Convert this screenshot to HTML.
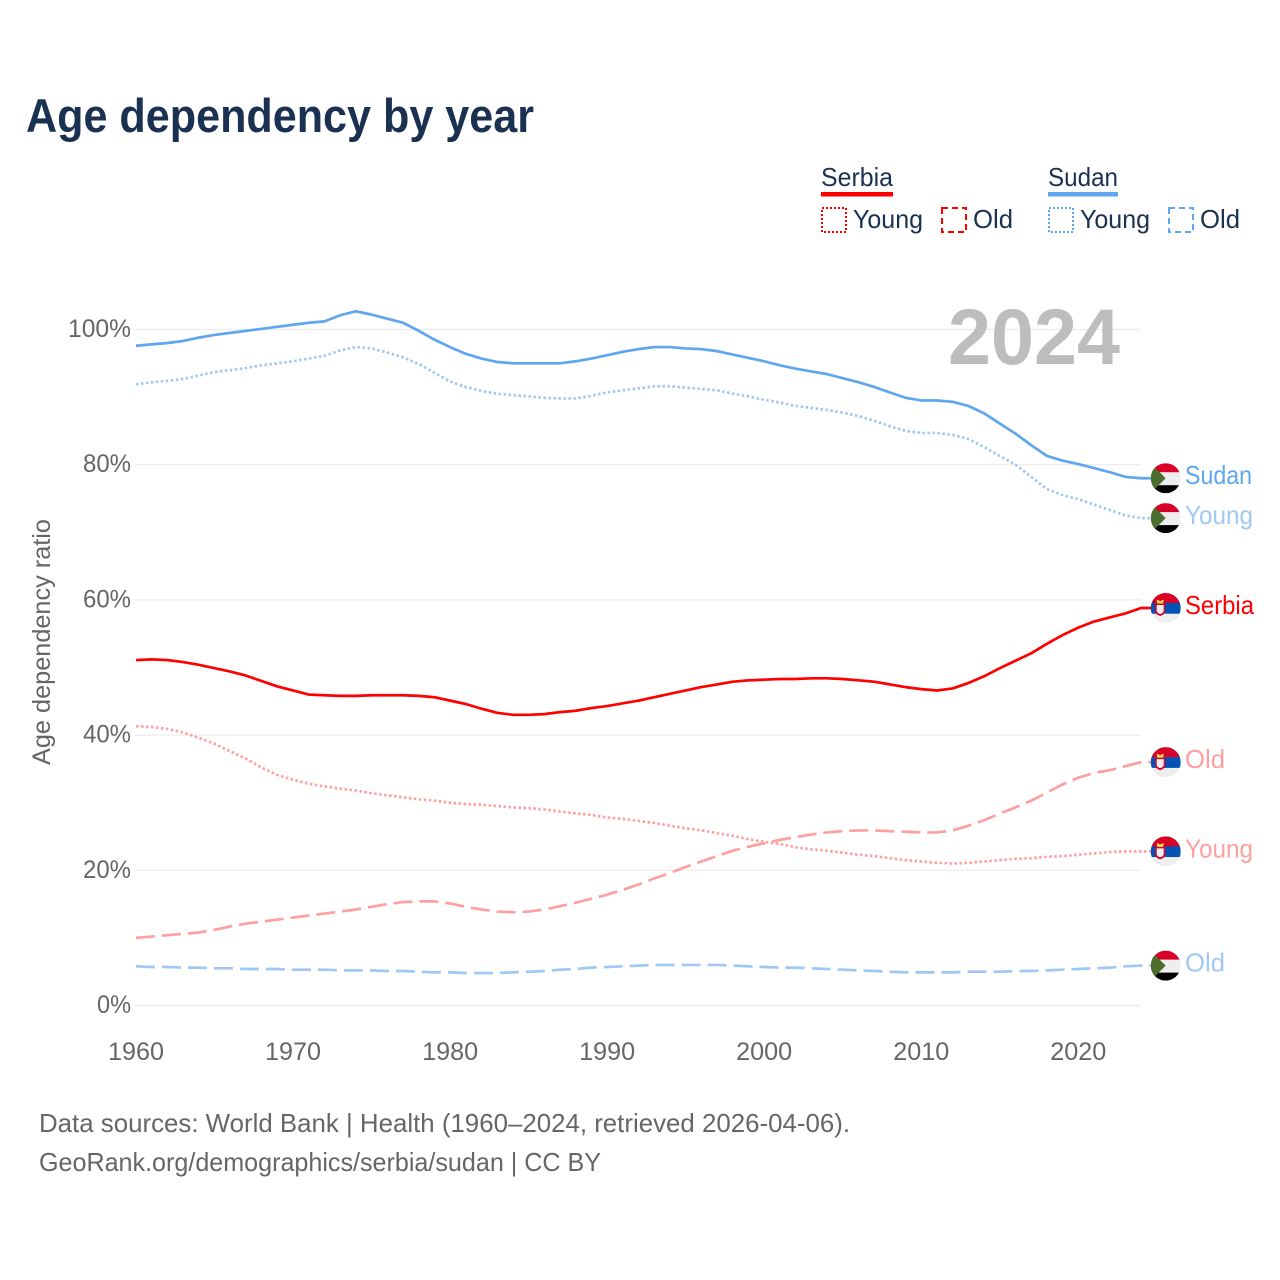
<!DOCTYPE html>
<html lang="en">
<head>
<meta charset="utf-8">
<title>Age dependency by year</title>
<style>
html,body{margin:0;padding:0;background:#fff;}
svg{display:block;font-family:"Liberation Sans",sans-serif;}
</style>
</head>
<body>
<svg id="chart" xmlns="http://www.w3.org/2000/svg" width="1280" height="1280" viewBox="0 0 1280 1280">
<defs>
<clipPath id="flag-clip"><circle cx="0" cy="0" r="15"/></clipPath>
</defs>
<rect x="0" y="0" width="1280" height="1280" fill="#fff"/>
<text x="26" y="132" font-size="47" font-weight="700" fill="#1a3152" textLength="508" lengthAdjust="spacingAndGlyphs">Age dependency by year</text>

<g font-size="26" fill="#1a3152">
<g>
<text x="821" y="186" textLength="72" lengthAdjust="spacingAndGlyphs">Serbia</text>
<rect x="821" y="192" width="72" height="4.5" fill="#ff0000"/>
<rect x="822" y="208" width="24" height="24" fill="none" stroke="#ff0000" stroke-width="2" stroke-dasharray="2 2"/>
<text x="853" y="228" textLength="70" lengthAdjust="spacingAndGlyphs">Young</text>
<rect x="942" y="208" width="24" height="24" fill="none" stroke="#ff0000" stroke-width="2" stroke-dasharray="6 4"/>
<text x="973" y="228" textLength="40" lengthAdjust="spacingAndGlyphs">Old</text>
</g>
<g>
<text x="1048" y="186" textLength="70" lengthAdjust="spacingAndGlyphs">Sudan</text>
<rect x="1048" y="192" width="70" height="4.5" fill="#5ea7ef"/>
<rect x="1049" y="208" width="24" height="24" fill="none" stroke="#5ea7ef" stroke-width="2" stroke-dasharray="2 2"/>
<text x="1080" y="228" textLength="70" lengthAdjust="spacingAndGlyphs">Young</text>
<rect x="1169" y="208" width="24" height="24" fill="none" stroke="#5ea7ef" stroke-width="2" stroke-dasharray="6 4"/>
<text x="1200" y="228" textLength="40" lengthAdjust="spacingAndGlyphs">Old</text>
</g>
</g>

<g id="grid"></g>
<text x="948" y="364" font-size="79" font-weight="700" fill="#bdbdbd" textLength="172" lengthAdjust="spacingAndGlyphs">2024</text>
<g id="yticks" font-size="25" fill="#666"></g>
<g id="xticks" font-size="25" fill="#666"></g>
<text transform="translate(50 642) rotate(-90)" text-anchor="middle" font-size="25" fill="#666" textLength="246" lengthAdjust="spacingAndGlyphs">Age dependency ratio</text>
<g id="series"></g>
<g id="flags"></g>
<g font-size="26" fill="#666">
<text x="39" y="1132" textLength="811" lengthAdjust="spacingAndGlyphs">Data sources: World Bank | Health (1960–2024, retrieved 2026-04-06).</text>
<text x="39" y="1171" textLength="562" lengthAdjust="spacingAndGlyphs">GeoRank.org/demographics/serbia/sudan | CC BY</text>
</g>
</svg>
<script>
const firstYear = 1960;
const xTickYears = [1960, 1970, 1980, 1990, 2000, 2010, 2020];
const yTickValues = [0, 20, 40, 60, 80, 100];
const yTickWidths = [34, 48, 48, 48, 48, 63];

const sudanTotal = [97.6,97.8,98.0,98.3,98.8,99.2,99.5,99.8,100.1,100.4,100.7,101.0,101.2,102.1,102.7,102.2,101.6,101.0,99.8,98.5,97.4,96.4,95.7,95.2,95.0,95.0,95.0,95.0,95.3,95.7,96.2,96.7,97.1,97.4,97.4,97.2,97.1,96.8,96.3,95.8,95.3,94.7,94.2,93.8,93.4,92.8,92.2,91.5,90.7,89.9,89.5,89.5,89.3,88.7,87.6,86.1,84.6,82.9,81.3,80.6,80.1,79.5,78.9,78.2,78.0];
const sudanYoung = [91.9,92.2,92.4,92.7,93.2,93.7,94.0,94.3,94.7,95.0,95.3,95.7,96.1,96.9,97.4,97.2,96.6,95.9,94.9,93.6,92.3,91.5,90.9,90.5,90.3,90.1,89.9,89.8,89.8,90.2,90.7,91.0,91.3,91.6,91.6,91.4,91.2,91.0,90.5,90.1,89.6,89.2,88.7,88.4,88.1,87.7,87.2,86.5,85.7,85.0,84.7,84.7,84.4,83.8,82.6,81.3,80.0,78.2,76.4,75.5,74.9,74.1,73.3,72.5,72.1];
const sudanOld = [5.8,5.7,5.7,5.6,5.6,5.5,5.5,5.4,5.4,5.4,5.3,5.3,5.3,5.2,5.2,5.2,5.1,5.1,5.0,4.9,4.9,4.8,4.8,4.8,4.9,5.0,5.1,5.3,5.4,5.6,5.7,5.8,5.9,6.0,6.0,6.0,6.0,6.0,5.9,5.8,5.7,5.6,5.6,5.5,5.4,5.3,5.2,5.1,5.0,4.9,4.9,4.9,4.9,5.0,5.0,5.0,5.1,5.1,5.2,5.3,5.4,5.5,5.6,5.8,5.9];
const serbiaTotal = [51.1,51.2,51.1,50.8,50.4,49.9,49.4,48.8,48.0,47.2,46.6,46.0,45.9,45.8,45.8,45.9,45.9,45.9,45.8,45.6,45.1,44.6,43.9,43.3,43.0,43.0,43.1,43.4,43.6,44.0,44.3,44.7,45.1,45.6,46.1,46.6,47.1,47.5,47.9,48.1,48.2,48.3,48.3,48.4,48.4,48.3,48.1,47.9,47.5,47.1,46.8,46.6,46.9,47.7,48.7,49.9,51.0,52.1,53.5,54.8,55.9,56.8,57.4,58.0,58.8];
const serbiaYoung = [41.3,41.2,40.9,40.4,39.6,38.7,37.6,36.5,35.2,34.1,33.4,32.8,32.4,32.1,31.8,31.4,31.1,30.8,30.5,30.3,30.0,29.8,29.7,29.5,29.3,29.2,29.0,28.7,28.4,28.2,27.8,27.6,27.3,27.0,26.6,26.2,25.9,25.5,25.1,24.6,24.2,23.9,23.4,23.1,22.9,22.6,22.3,22.1,21.8,21.5,21.3,21.1,21.0,21.1,21.3,21.5,21.7,21.8,22.0,22.1,22.3,22.5,22.7,22.8,22.8];
const serbiaOld = [10.0,10.2,10.4,10.6,10.8,11.2,11.7,12.1,12.4,12.7,13.0,13.3,13.6,13.9,14.2,14.6,15.0,15.3,15.4,15.4,15.1,14.6,14.2,13.9,13.8,13.9,14.2,14.7,15.2,15.8,16.4,17.1,17.9,18.8,19.6,20.5,21.3,22.1,22.9,23.5,24.0,24.5,24.9,25.3,25.6,25.8,25.9,25.9,25.8,25.7,25.6,25.6,25.9,26.6,27.4,28.4,29.3,30.3,31.5,32.7,33.7,34.4,34.8,35.4,36.0];

const NS = 'http://www.w3.org/2000/svg';
function xScale(year) { return 136 + (year - firstYear) * 15.705; }
function yScale(v) { return 1005.5 - v * 6.76; }
function make(tag, attrs, parent) {
  const el = document.createElementNS(NS, tag);
  for (const k in attrs) el.setAttribute(k, attrs[k]);
  parent.appendChild(el);
  return el;
}

const grid = document.getElementById('grid');
const yticks = document.getElementById('yticks');
const xticks = document.getElementById('xticks');
const seriesLayer = document.getElementById('series');
const flagLayer = document.getElementById('flags');

yTickValues.forEach(function (v, i) {
  const line = make('line', {x1: 135, x2: 1141, y1: yScale(v), y2: yScale(v), stroke: '#ececec', 'stroke-width': 1.2}, grid);
  
  
  const t = make('text', {x: 131 - yTickWidths[i], y: yScale(v) + 7.5, textLength: yTickWidths[i], lengthAdjust: 'spacingAndGlyphs'}, yticks);
  t.textContent = v + '%';
  
  
});

xTickYears.forEach(function (year) {
  const t = make('text', {x: xScale(year) - 28, y: 1060, textLength: 56, lengthAdjust: 'spacingAndGlyphs'}, xticks);
  t.textContent = String(year);
  
  
});

function drawSeries(values, color, dash, name) {
  let d = '';
  values.forEach(function (v, i) {
    d += (i ? 'L' : 'M') + xScale(firstYear + i).toFixed(2) + ' ' + yScale(v).toFixed(2);
  });
  d += 'H1151';
  const attrs = {d: d, fill: 'none', stroke: color, 'stroke-width': 2.7, 'stroke-linejoin': 'round'};
  if (dash) attrs['stroke-dasharray'] = dash;
  const p = make('path', attrs, seriesLayer);
  
  
}

function drawSudanFlag(g) {
  make('rect', {x: -15, y: -15, width: 30, height: 9.5, fill: '#d80027'}, g);
  make('rect', {x: -15, y: -6, width: 30, height: 13, fill: '#eeeeee'}, g);
  make('rect', {x: -15, y: 7, width: 30, height: 8, fill: '#000000'}, g);
  make('path', {d: 'M-15 -15L0 0L-15 15Z', fill: '#496e2d'}, g);
}

function drawSerbiaFlag(g) {
  make('rect', {x: -15, y: -15, width: 30, height: 10.2, fill: '#d80027'}, g);
  make('rect', {x: -15, y: -5, width: 30, height: 10.8, fill: '#0052b4'}, g);
  make('rect', {x: -15, y: 5.8, width: 30, height: 9.2, fill: '#eeeeee'}, g);
  make('path', {d: 'M-10.5 -4.5H-0.5V3Q-0.5 6.5 -5.5 8Q-10.5 6.5 -10.5 3Z', fill: '#d80027'}, g);
  make('path', {d: 'M-9 -3H-2V2.5Q-2 5 -5.5 6Q-9 5 -9 2.5Z', fill: '#eeeeee'}, g);
  make('path', {d: 'M-8.5 -4.5L-9 -8.5L-5.5 -7L-2 -8.5L-2.5 -4.5Z', fill: '#ffda44'}, g);
}

function drawEnd(values, color, label, labelWidth, flagFn, name) {
  const cy = yScale(values[values.length - 1]);
  const g = make('g', {transform: 'translate(1165.7 ' + cy.toFixed(2) + ')'}, flagLayer);
  
  
  const inner = make('g', {'clip-path': 'url(#flag-clip)'}, g);
  flagFn(inner);
  const t = make('text', {x: 1185, y: (cy + 6).toFixed(2), 'font-size': 26, fill: color, textLength: labelWidth, lengthAdjust: 'spacingAndGlyphs'}, flagLayer);
  t.textContent = label;
  
  
}

drawSeries(sudanOld, '#a0c8f3', '19 7', 'sudan-old-line');
drawSeries(serbiaOld, '#ffa0a0', '19 7', 'serbia-old-line');
drawSeries(serbiaYoung, '#ffa0a0', '2.5 2.5', 'serbia-young-line');
drawSeries(sudanYoung, '#a0c8f3', '2.5 2.5', 'sudan-young-line');
drawSeries(serbiaTotal, '#ff0000', null, 'serbia-total-line');
drawSeries(sudanTotal, '#5ea7ef', null, 'sudan-total-line');

drawEnd(sudanTotal, '#5ea7ef', 'Sudan', 67, drawSudanFlag, 'sudan-total');
drawEnd(sudanYoung, '#a0c8f3', 'Young', 68, drawSudanFlag, 'sudan-young');
drawEnd(sudanOld, '#a0c8f3', 'Old', 40, drawSudanFlag, 'sudan-old');
drawEnd(serbiaTotal, '#ff0000', 'Serbia', 69, drawSerbiaFlag, 'serbia-total');
drawEnd(serbiaYoung, '#ffa0a0', 'Young', 68, drawSerbiaFlag, 'serbia-young');
drawEnd(serbiaOld, '#ffa0a0', 'Old', 40, drawSerbiaFlag, 'serbia-old');
</script>
</body>
</html>
